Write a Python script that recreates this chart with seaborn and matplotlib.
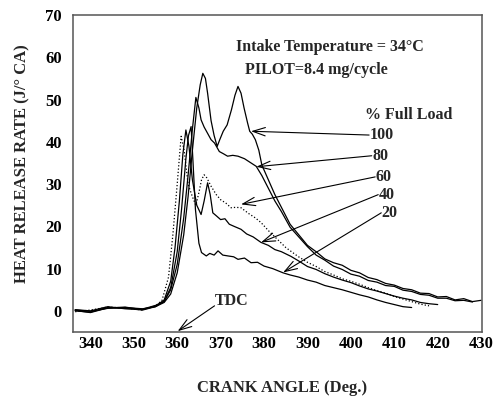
import matplotlib
matplotlib.use("Agg")
import matplotlib.pyplot as plt
import seaborn as sns
import pandas as pd

# ---- data ----
x100 = [336.5, 340, 344, 348, 352, 355, 357, 358.5, 360, 361.5, 362.5, 363.5, 364.5, 365.3, 365.9, 366.5, 367,
        367.8, 368.5, 369.2, 369.8, 370.6, 371.5, 372.5, 373.3, 374, 374.7, 375.4, 376.2, 376.7, 377.3, 378,
        378.8, 379.5, 381, 382.5, 384, 386, 388, 390, 392, 394, 396, 398, 400, 402, 404, 406, 408, 410, 412,
        414, 416, 418, 420, 422, 424, 426, 428, 430]
y100 = [0, -0.3, 0.8, 0.6, 0.2, 1.0, 2.0, 4, 9, 18, 27, 38, 48, 53.5, 56.2, 55, 51.5,
        45, 41.5, 38.9, 40.5, 42.5, 44, 47.6, 51, 53.1, 51.5, 48, 44.5, 42.5, 41.8, 40.5,
        38, 34.5, 31, 27.5, 24.5, 20.5, 18, 15.5, 14, 12.3, 11.4, 10.8, 9.6, 9.0, 7.9, 7.4, 6.5, 6.1, 5.3,
        5.0, 4.2, 4.1, 3.3, 3.4, 2.6, 2.9, 2.2, 2.5]

x80 = [336.5, 340, 344, 348, 352, 355, 357, 358.5, 360, 361.5, 362.5, 363.5, 364.3, 365, 365.5, 366.2, 367,
       367.8, 368.6, 369.7, 370.6, 371.6, 372.8, 374, 375.5, 377, 378.2, 379.5, 381, 382.5, 384, 386, 388,
       390, 392, 394, 396, 398, 400, 402, 404, 406, 408, 410, 412, 414, 416, 418, 420, 422, 424, 426, 428]
y80 = [0.3, 0, 1.0, 0.5, 0.4, 1.3, 2.2, 5, 11, 22, 32, 43, 50.5, 48, 45.2, 43.5, 42,
       40.5, 39.7, 37.7, 37.2, 36.6, 36.8, 36.6, 36, 35, 34.2, 32, 29, 26, 23.5, 19.8, 17.5,
       15.2, 13.2, 12, 10.6, 9.8, 8.7, 8.2, 7.2, 6.8, 6.0, 5.8, 4.9, 4.6, 3.9, 3.7, 3.0, 3.0, 2.4, 2.5, 2.1]

x60 = [336.5, 340, 344, 348, 352, 355, 356.5, 358, 359, 360, 360.9, 361.6, 362.5, 363.5, 364.3, 365, 365.6,
       366.2, 366.8, 367.8, 369, 370, 371.2, 372.4, 373.5, 374.7, 376.5, 378, 379.3, 381, 383, 385, 387.8,
       390, 392, 394, 396, 398, 400, 402, 404, 406, 408, 410, 412, 414, 416, 418]
y60 = [-0.2, 0.2, 0.9, 0.7, 0.2, 1.2, 2.5, 8, 18, 30, 41.3, 38, 30, 27, 25, 28, 31,
       32.2, 31.5, 29.5, 27.5, 26.3, 25.5, 24.4, 24.5, 24.4, 23, 22, 20.9, 19, 17, 15, 12.9,
       11.5, 10.5, 9.3, 8.5, 7.6, 7, 6.3, 5.5, 4.8, 4.2, 3.4, 2.8, 2.2, 1.6, 1.2]

x40 = [336.5, 340, 344, 348, 352, 355, 357, 358.5, 359.5, 360.5, 361.3, 362, 362.7, 363.5, 364.5, 365.5,
       366.2, 367, 367.6, 368.2, 369, 370, 371, 372, 373.1, 374.7, 376, 377.5, 379.3, 381, 382.5, 384,
       386.2, 388, 390, 392, 394, 396, 398, 400, 402, 404, 406, 408, 410, 412, 414, 416, 418, 420]
y40 = [0.1, -0.4, 0.7, 0.9, 0.3, 1.1, 2.6, 7, 15, 26, 37, 42.8, 39, 31, 25, 22.8,
       26, 30.3, 27.5, 23.2, 22.5, 21.6, 21.8, 20.5, 20, 19.3, 18.2, 17.5, 16.2, 15.5, 14.5, 14,
       12.9, 11.8, 10.5, 9.8, 8.8, 8.0, 7.3, 6.7, 5.9, 5.2, 4.7, 4.1, 3.5, 3.0, 2.6, 2.0, 1.7, 1.5]

x20 = [336.5, 340, 344, 348, 352, 355, 357, 358.5, 360, 361, 362, 362.6, 363.2, 363.6, 364.2, 365, 365.6,
       366.7, 367.5, 368.5, 369.4, 370.5, 371.7, 373, 374, 375.5, 377, 378.5, 380, 382, 384.4, 386, 388,
       390, 392, 394, 396, 398, 400, 402, 404, 406, 408, 410, 412, 414]
y20 = [0.2, -0.1, 0.6, 0.8, 0.5, 1.0, 2.3, 5.5, 14, 24, 36, 41.5, 43.6, 36, 24, 16, 13.8,
       13, 13.6, 13.2, 14.2, 13.2, 13, 12.8, 12.2, 12.5, 11.4, 11.5, 10.6, 10, 9, 8.5, 8,
       7.3, 6.8, 6.0, 5.5, 5.0, 4.4, 3.8, 3.3, 2.6, 2.0, 1.5, 1.0, 0.8]

load_labels = ["100", "80", "60", "40", "20"]
# arrow tips (curve points) and label anchors, in data coordinates
tip_x = [377.0, 378.2, 374.7, 379.3, 384.4]
tip_y = [42.5, 34.1, 25.2, 16.2, 9.1]
lab_x = [404.2, 404.8, 405.6, 406.3, 407.0]
lab_y = [41.6, 36.7, 31.7, 27.5, 23.2]

x_ticks = [340, 350, 360, 370, 380, 390, 400, 410, 420, 430]
y_ticks = [0, 10, 20, 30, 40, 50, 60, 70]

# ---- plotting ----
sns.set_style("white")
plt.rcParams['font.family'] = ['Liberation Serif', 'DejaVu Serif']
plt.rcParams['font.weight'] = 'bold'

fig = plt.figure(figsize=(4.95, 4.01), dpi=100)
ax = fig.add_axes([0.1475, 0.172, 0.8262, 0.7906])

curves = [(x100, y100, '-'), (x80, y80, '-'), (x60, y60, ':'), (x40, y40, '-'), (x20, y20, '-')]
for (xs, ys, ls), lab in zip(curves, load_labels):
    df = pd.DataFrame({"angle": xs, "hrr": ys})
    sns.lineplot(data=df, x="angle", y="hrr", ax=ax, color="black", linewidth=0.9,
                 linestyle=ls, estimator=None, sort=False)

ax.set_xlim(336, 430.2)
ax.set_ylim(-5, 70)
ax.set_xticks(x_ticks)
ax.set_yticks(y_ticks)
ax.tick_params(direction='in', length=5, width=0.9, labelsize=12, pad=3, colors='black')
ax.tick_params(axis='y', pad=8)
for lbl in ax.get_xticklabels() + ax.get_yticklabels():
    lbl.set_fontweight('bold')
for s in ax.spines.values():
    s.set_color('#555555')
    s.set_linewidth(1.1)

ax.set_xlabel("CRANK ANGLE (Deg.)", fontsize=12, fontweight='bold')
ax.set_ylabel("HEAT RELEASE RATE (J/° CA)", fontsize=12, fontweight='bold')
ax.xaxis.set_label_coords(0.511, -0.152)
ax.yaxis.set_label_coords(-0.103, 0.53)

ax.text(373.6, 62.5, "Intake Temperature = 34°C", fontsize=11.5, fontweight='bold', ha='left', va='center')
ax.text(375.5, 56.9, "PILOT=8.4 mg/cycle", fontsize=11.5, fontweight='bold', ha='left', va='center')
ax.text(413.3, 46.3, "% Full Load", fontsize=11.5, fontweight='bold', ha='center', va='center')

for lx, ly, tx, ty, lab in zip(lab_x, lab_y, tip_x, tip_y, load_labels):
    ax.annotate("", xy=(tx, ty), xytext=(lx, ly),
                arrowprops=dict(arrowstyle="->,head_length=0.9,head_width=0.3", lw=0.8, color='black',
                                shrinkA=0, shrinkB=0))
    ax.text(lx + 0.1, ly, lab, fontsize=11.5, fontweight='bold', ha='left', va='center')

ax.annotate("", xy=(360.1, -4.8), xytext=(368.6, 1.2),
            arrowprops=dict(arrowstyle="->,head_length=0.9,head_width=0.3", lw=0.8, color='black',
                            shrinkA=0, shrinkB=0))
ax.text(368.6, 2.3, "TDC", fontsize=11.5, fontweight='bold', ha='left', va='center')

fig.savefig("out.png", dpi=100)
